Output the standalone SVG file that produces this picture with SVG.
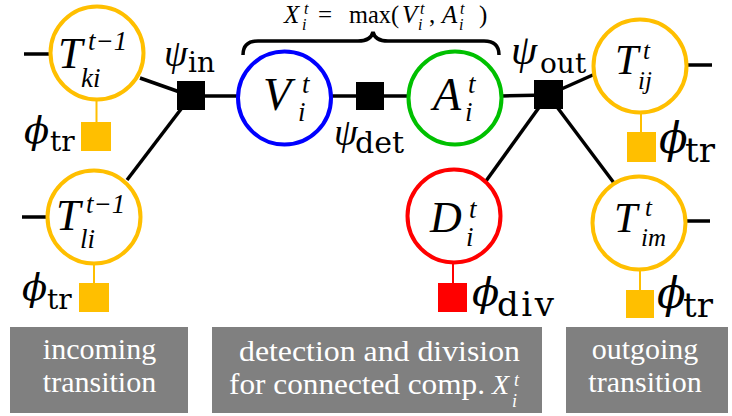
<svg xmlns="http://www.w3.org/2000/svg" width="732" height="416" viewBox="0 0 732 416">
<style>
.var{fill:#fff;stroke-width:4}
.yel{stroke:#FFBF00}
.fy{fill:#FFBF00}
.fr{fill:#FF0000}
.fk{fill:#000}
.m{font-family:'Liberation Serif',serif;font-style:italic;fill:#000}
.u{font-family:'Liberation Serif',serif;font-style:normal;fill:#000}
.g{font-family:'DejaVu Serif',serif;font-style:italic;fill:#000}
.r{font-family:'DejaVu Serif','Liberation Serif',serif;font-style:normal;fill:#000}
.big{font-size:44px}
.sc{font-size:27px}
.lbl{font-family:'Liberation Serif',serif;font-size:30px;fill:#fff;text-anchor:middle}
.lm{font-family:'Liberation Serif',serif;font-style:italic;fill:#fff}
.edge{stroke:#000;stroke-width:3.5;fill:none}
.stub{stroke-width:2;fill:none}
.box{fill:#808080}
</style>

<g id="connectors">
  <line class="edge" x1="24" y1="54" x2="50" y2="54"/>
  <line class="edge" x1="22" y1="217" x2="47" y2="217"/>
  <line class="edge" x1="686" y1="65" x2="712" y2="65"/>
  <line class="edge" x1="685" y1="221" x2="710" y2="221"/>
  <line class="edge" x1="140" y1="78" x2="191" y2="96"/>
  <line class="edge" x1="127" y1="180" x2="191" y2="96"/>
  <line class="edge" x1="191" y1="96" x2="238" y2="96"/>
  <line class="edge" x1="331" y1="96" x2="408" y2="96"/>
  <line class="edge" x1="502" y1="96" x2="548" y2="95"/>
  <line class="edge" x1="548" y1="95" x2="595" y2="74"/>
  <line class="edge" x1="548" y1="95" x2="486" y2="181"/>
  <line class="edge" x1="548" y1="95" x2="614" y2="183"/>
  <line class="stub yel" x1="96.5" y1="99" x2="96.5" y2="122"/>
  <line class="stub yel" x1="94" y1="263" x2="94" y2="283"/>
  <line class="stub yel" x1="641" y1="112" x2="641" y2="132"/>
  <line class="stub" stroke="#FF0000" x1="453" y1="262" x2="453" y2="283"/>
  <line class="stub yel" x1="640" y1="269" x2="640" y2="290"/>
  <path class="edge" d="M243,55 Q243,41 258,41 L358,41 Q371,41 373,32 Q375,41 388,41 L484,41 Q499,41 499,55"/>
</g>

<g id="brace-label">
  <text class="m" x="284" y="23" font-size="25">X</text>
  <text class="m" x="304" y="14" font-size="16">t</text>
  <text class="m" x="302" y="30" font-size="16">i</text>
  <text class="u" x="318" y="23" font-size="25">=</text>
  <text class="u" x="349" y="23" font-size="25" textLength="50" lengthAdjust="spacingAndGlyphs">max(</text>
  <text class="m" x="402" y="23" font-size="25">V</text>
  <text class="m" x="420" y="14" font-size="16">t</text>
  <text class="m" x="418" y="30" font-size="16">i</text>
  <text class="u" x="429" y="23" font-size="25">,</text>
  <text class="m" x="442" y="23" font-size="25">A</text>
  <text class="m" x="460" y="14" font-size="16">t</text>
  <text class="m" x="459" y="30" font-size="16">i</text>
  <text class="u" x="479" y="23" font-size="25">)</text>
</g>

<g id="T_ki">
  <circle class="var yel" cx="97" cy="53" r="46.5"/>
  <text class="m big" x="58" y="68">T</text>
  <text class="m sc" x="88" y="50">t−1</text>
  <text class="m sc" x="81" y="87">ki</text>
</g>
<g id="phi_tr_ki">
  <rect class="fy" x="81" y="122" width="30" height="29"/>
  <text class="g" x="24" y="143" font-size="37">ϕ</text>
  <text class="r" x="50" y="151" font-size="28">tr</text>
</g>

<g id="T_li">
  <circle class="var yel" cx="94" cy="217" r="46.5"/>
  <text class="m big" x="56" y="230">T</text>
  <text class="m sc" x="86" y="213">t−1</text>
  <text class="m sc" x="80" y="248">li</text>
</g>
<g id="phi_tr_li">
  <rect class="fy" x="79" y="283" width="30" height="29"/>
  <text class="g" x="22" y="300" font-size="37">ϕ</text>
  <text class="r" x="47" y="309" font-size="28">tr</text>
</g>

<g id="psi_in">
  <rect class="fk" x="177" y="81" width="28" height="29"/>
  <text class="m" x="164" y="66" font-size="38">ψ</text>
  <text class="r" x="188" y="72" font-size="28">in</text>
</g>

<g id="V">
  <circle class="var" stroke="#0000FF" cx="284.5" cy="98" r="46.5"/>
  <text class="m" x="263" y="110" font-size="46">V</text>
  <text class="m sc" x="302" y="93">t</text>
  <text class="m sc" x="298" y="121">i</text>
</g>

<g id="psi_det">
  <rect class="fk" x="356" y="82" width="28" height="28"/>
  <text class="m" x="334" y="145" font-size="38">ψ</text>
  <text class="r" x="355" y="153" font-size="30">det</text>
</g>

<g id="A">
  <circle class="var" stroke="#00C000" cx="455" cy="98" r="46.5"/>
  <text class="m" x="433" y="110" font-size="46">A</text>
  <text class="m sc" x="468" y="93">t</text>
  <text class="m sc" x="465" y="121">i</text>
</g>

<g id="psi_out">
  <rect class="fk" x="534" y="80" width="29" height="29"/>
  <text class="m" x="511" y="64" font-size="42">ψ</text>
  <text class="r" x="540" y="73" font-size="28">out</text>
</g>

<g id="T_ij">
  <circle class="var yel" cx="640" cy="66" r="46.5"/>
  <text class="m" x="615" y="74" font-size="42">T</text>
  <text class="m" x="643" y="59" font-size="25">t</text>
  <text class="m" x="638" y="89" font-size="25">ij</text>
</g>
<g id="phi_tr_ij">
  <rect class="fy" x="627" y="132" width="29" height="30"/>
  <text class="g" x="659" y="153" font-size="42">ϕ</text>
  <text class="r" x="685" y="162" font-size="34">tr</text>
</g>

<g id="D">
  <circle class="var" stroke="#FF0000" cx="454" cy="216" r="46.5"/>
  <text class="m big" x="430" y="232">D</text>
  <text class="m sc" x="469" y="218">t</text>
  <text class="m sc" x="466" y="246">i</text>
</g>
<g id="phi_div">
  <rect class="fr" x="438" y="283" width="29" height="29"/>
  <text class="g" x="472" y="306" font-size="40">ϕ</text>
  <text class="r" x="497" y="316" font-size="34" textLength="57" lengthAdjust="spacing">div</text>
</g>

<g id="T_im">
  <circle class="var yel" cx="639" cy="223" r="46.5"/>
  <text class="m" x="614" y="232" font-size="42">T</text>
  <text class="m" x="645" y="216" font-size="25">t</text>
  <text class="m" x="641" y="246" font-size="25">im</text>
</g>
<g id="phi_tr_im">
  <rect class="fy" x="626" y="290" width="28" height="28"/>
  <text class="g" x="657" y="308" font-size="42">ϕ</text>
  <text class="r" x="683" y="317" font-size="34">tr</text>
</g>

<g id="box_incoming">
  <rect class="box" x="10" y="327" width="178" height="86"/>
  <text class="lbl" x="99.5" y="359">incoming</text>
  <text class="lbl" x="99.5" y="392">transition</text>
</g>
<g id="box_detection">
  <rect class="box" x="212" y="327" width="330" height="86"/>
  <text class="lbl" x="379.5" y="361" textLength="281" lengthAdjust="spacingAndGlyphs">detection and division</text>
  <text class="lbl" x="357" y="394" textLength="256" lengthAdjust="spacingAndGlyphs">for connected comp.</text>
  <text class="lm" x="492" y="394" font-size="28">X</text>
  <text class="lm" x="514" y="386" font-size="18">t</text>
  <text class="lm" x="512" y="407" font-size="18">i</text>
</g>
<g id="box_outgoing">
  <rect class="box" x="566" y="327" width="162" height="86"/>
  <text class="lbl" x="645" y="359">outgoing</text>
  <text class="lbl" x="645" y="392">transition</text>
</g>
</svg>
